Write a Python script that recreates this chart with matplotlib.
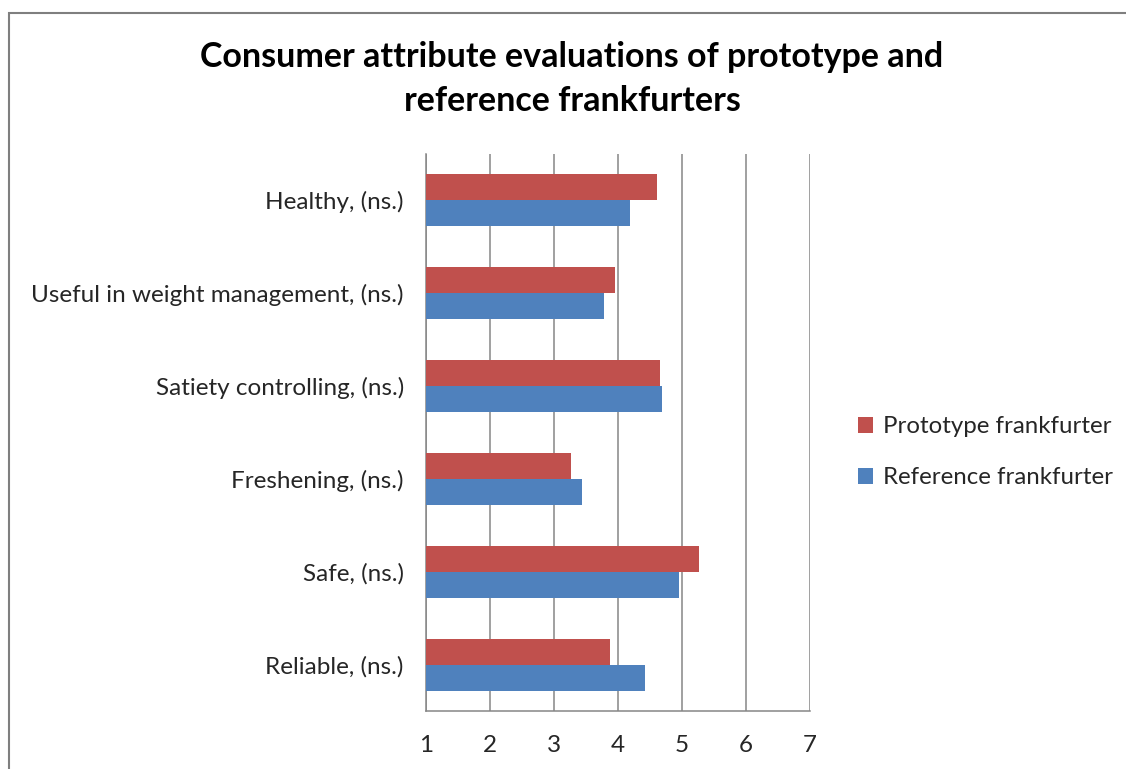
import matplotlib.pyplot as plt
from matplotlib.patches import Rectangle
import numpy as np

# attribute scores (1-7 scale), top to bottom as listed
attributes = [
    "Healthy, (ns.)",
    "Useful in weight management, (ns.)",
    "Satiety controlling, (ns.)",
    "Freshening, (ns.)",
    "Safe, (ns.)",
    "Reliable, (ns.)",
]
prototype = [4.61, 3.95, 4.66, 3.27, 5.27, 3.88]
reference = [4.19, 3.78, 4.68, 3.44, 4.95, 4.42]
series_names = ["Prototype frankfurter", "Reference frankfurter"]
x_ticks = [1, 2, 3, 4, 5, 6, 7]

RED = "#C0504D"
BLUE = "#4F81BD"
GRID = "#868686"
TEXT = "#262626"

plt.rcParams['font.family'] = ['Lato', 'DejaVu Sans']

fig = plt.figure(figsize=(11.26, 7.69), dpi=100)
ax = fig.add_axes([426 / 1126, 1 - 711 / 769, 384 / 1126, 557 / 769])

n = len(attributes)
ypos = np.arange(n)[::-1]
h = 0.28
ax.barh(ypos + h / 2, prototype, height=h, left=0, color=RED,
        label=series_names[0], zorder=3)
ax.barh(ypos - h / 2, reference, height=h, left=0, color=BLUE,
        label=series_names[1], zorder=3)

ax.set_xlim(1, 7)
ax.set_ylim(-0.5, n - 0.5)
ax.set_xticks(x_ticks)
ax.set_yticks(ypos)
ax.set_yticklabels(attributes)
ax.xaxis.grid(True, color=GRID, linewidth=1.1, zorder=0)
ax.tick_params(axis='x', length=0, pad=17, labelsize=17.5, labelcolor=TEXT)
ax.tick_params(axis='y', length=0, pad=16, labelsize=17.5, labelcolor=TEXT)

for side in ['top', 'right']:
    ax.spines[side].set_visible(False)
for side in ['left', 'bottom']:
    ax.spines[side].set_color(GRID)
    ax.spines[side].set_linewidth(1.1)

fig.text(572 / 1126, 1 - 57 / 769,
         "Consumer attribute evaluations of prototype and",
         ha='center', va='center', fontsize=24.5, fontweight='bold', color='black')
fig.text(572 / 1126, 1 - 101 / 769, "reference frankfurters",
         ha='center', va='center', fontsize=24.5, fontweight='bold', color='black')

leg = fig.legend(loc='center left', bbox_to_anchor=(836 / 1126, 1 - 452 / 769),
                 frameon=False, fontsize=17.3, handlelength=0.65, handleheight=0.65,
                 handletextpad=0.4, labelspacing=1.25)
for t in leg.get_texts():
    t.set_color(TEXT)

# outer chart border
fig.patches.append(Rectangle((9 / 1126, -0.05), 1.1, 1 - 13 / 769 + 0.05,
                             transform=fig.transFigure, fill=False,
                             edgecolor="#7F7F7F", linewidth=1.5))

fig.savefig("out.png", dpi=100)
